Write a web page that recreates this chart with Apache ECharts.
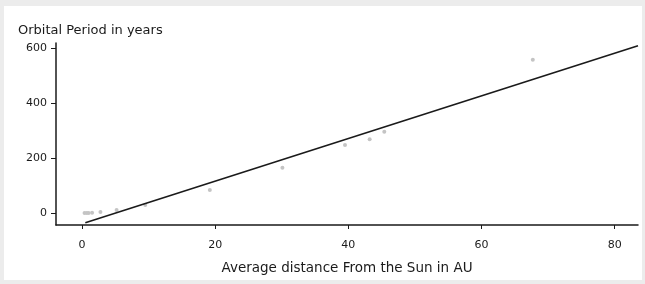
<!DOCTYPE html>
<html>
<head>
<meta charset="utf-8">
<script src="https://cdn.jsdelivr.net/npm/echarts@6/dist/echarts.min.js"></script>
<style>
  html, body { margin: 0; padding: 0; background: #ececec; }
  #chart { position: absolute; left: 4px; top: 6px; width: 638px; height: 274px; background: #fff; }
</style>
</head>
<body>
<div id="chart"></div>
<script>
// planets + dwarf planets: distance (AU) vs orbital period (years)
const distanceAU = [0.39, 0.72, 1.0, 1.52, 2.77, 5.2, 9.5, 19.2, 30.1, 39.5, 43.2, 45.4, 67.7]
const periodYears = [0.24, 0.62, 1.0, 1.9, 4.6, 11.9, 29.5, 84, 165, 248, 268, 296, 557]
// fitted trend line at its ends
const fitX = [0.5, 83.5]
const fitY = [-35, 608]
const xTicks = [0, 20, 40, 60, 80]
const yTicks = [0, 200, 400, 600]

const chart = echarts.init(document.getElementById('chart'))
const ink = '#1a1a1a'
const font = 'DejaVu Sans'

chart.setOption({
  animation: false,
  backgroundColor: '#fff',
  title: {
    text: 'Orbital Period in years',
    left: 9,
    top: 13,
    textStyle: { fontFamily: font, fontSize: 13, fontWeight: 'normal', color: ink }
  },
  grid: { left: 52, right: 4, top: 37, bottom: 54 },
  xAxis: {
    type: 'value',
    min: -3.9,
    max: 83.5,
    name: 'Average distance From the Sun in AU',
    nameLocation: 'middle',
    nameGap: 36,
    nameTextStyle: { fontFamily: font, fontSize: 13.5, color: ink },
    axisLine: { show: true, onZero: false, lineStyle: { color: ink, width: 1.5 } },
    axisTick: { show: true, length: 4, customValues: xTicks, lineStyle: { color: ink } },
    axisLabel: { customValues: xTicks, margin: 15, fontFamily: font, fontSize: 11, color: ink },
    splitLine: { show: false }
  },
  yAxis: {
    type: 'value',
    min: -43,
    max: 618,
    axisLine: { show: true, onZero: false, lineStyle: { color: ink, width: 1.5 } },
    axisTick: { show: true, length: 5, customValues: yTicks, lineStyle: { color: ink } },
    axisLabel: { customValues: yTicks, margin: 9, fontFamily: font, fontSize: 11, color: ink },
    splitLine: { show: false }
  },
  series: [
    {
      type: 'scatter',
      data: distanceAU.map((d, i) => [d, periodYears[i]]),
      symbol: 'circle',
      symbolSize: 4,
      z: 1,
      itemStyle: { color: '#c4c4c4', opacity: 1 }
    },
    {
      type: 'line',
      data: fitX.map((d, i) => [d, fitY[i]]),
      showSymbol: false,
      z: 2,
      lineStyle: { color: ink, width: 1.6 }
    }
  ]
})
</script>
</body>
</html>
